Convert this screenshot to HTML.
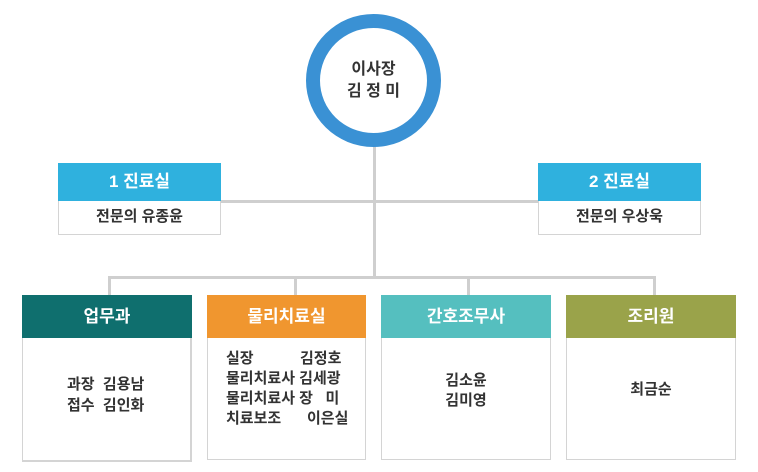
<!DOCTYPE html>
<html><head><meta charset="utf-8"><style>
body{margin:0;width:758px;height:472px;background:#fff;position:relative;overflow:hidden;font-family:"Liberation Sans","Noto Sans CJK KR",sans-serif;}
.a{position:absolute;}
.l{position:absolute;background:#cfcfcf;}
.h{position:absolute;color:#fff;font-weight:bold;font-size:17px;text-align:center;box-sizing:border-box;}
.b{position:absolute;border:2px solid #d4d4d4;border-top:none;box-sizing:border-box;color:#333;font-weight:bold;font-size:15px;background:#fff;}
</style></head><body>
<div class="l" style="left:373px;top:146px;width:3px;height:132px"></div>
<div class="l" style="left:221px;top:200px;width:317px;height:3px"></div>
<div class="l" style="left:108px;top:276px;width:548px;height:3px"></div>
<div class="l" style="left:108px;top:276px;width:3px;height:20px"></div>
<div class="l" style="left:294px;top:276px;width:3px;height:20px"></div>
<div class="l" style="left:467px;top:276px;width:3px;height:20px"></div>
<div class="l" style="left:653px;top:276px;width:3px;height:20px"></div>

<div class="a" style="left:306px;top:14px;width:135px;height:133px;border-radius:50%;border:14px solid #3a91d4;box-sizing:border-box;background:#fff"></div>
<div class="a" style="left:306px;top:59px;width:135px;text-align:center;font-size:16px;font-weight:bold;color:#333;line-height:22px">이사장<br>김 정 미</div>

<div class="h" style="left:58px;top:163px;width:163px;height:38px;line-height:38px;background:#2fb1de">1 진료실</div>
<div class="b" style="left:58px;top:201px;width:163px;height:34px;border:1px solid #d4d4d4;border-top:0;text-align:center;line-height:32px">전문의 유종윤</div>
<div class="h" style="left:538px;top:163px;width:163px;height:38px;line-height:38px;background:#2fb1de">2 진료실</div>
<div class="b" style="left:538px;top:201px;width:163px;height:34px;border:1px solid #d4d4d4;border-top:0;text-align:center;line-height:32px">전문의 우상욱</div>

<div class="h" style="left:22px;top:295px;width:170px;height:43px;line-height:43px;background:#0f6f6e">업무과</div>
<div class="b" style="left:22px;top:338px;width:170px;height:124px;border-width:0 2px 2px 1px;padding:36px 0 0 44px;line-height:21px">과장 &nbsp;김용남<br>접수 &nbsp;김인화</div>

<div class="h" style="left:207px;top:295px;width:159px;height:43px;line-height:43px;background:#f0962f">물리치료실</div>
<div class="b" style="left:207px;top:338px;width:159px;height:122px;border-width:0 1px 1px 1px;padding:11px 0 0 18px;line-height:20px"><div style="position:relative;width:135px">실장<span style="position:absolute;left:74px">김정호</span><br>물리치료사 김세광<br>물리치료사 장 &nbsp;&nbsp;미<br>치료보조<span style="position:absolute;left:81px">이은실</span></div></div>

<div class="h" style="left:381px;top:295px;width:170px;height:43px;line-height:43px;background:#55bfbf">간호조무사</div>
<div class="b" style="left:381px;top:338px;width:170px;height:122px;border-width:0 1px 1px 1px;text-align:center;padding-top:33px;line-height:20px">김소윤<br>김미영</div>

<div class="h" style="left:566px;top:295px;width:170px;height:43px;line-height:43px;background:#9aa34a">조리원</div>
<div class="b" style="left:566px;top:338px;width:170px;height:122px;border-width:0 1px 1px 1px;text-align:center;padding-top:42px;line-height:20px">최금순</div>
</body></html>
